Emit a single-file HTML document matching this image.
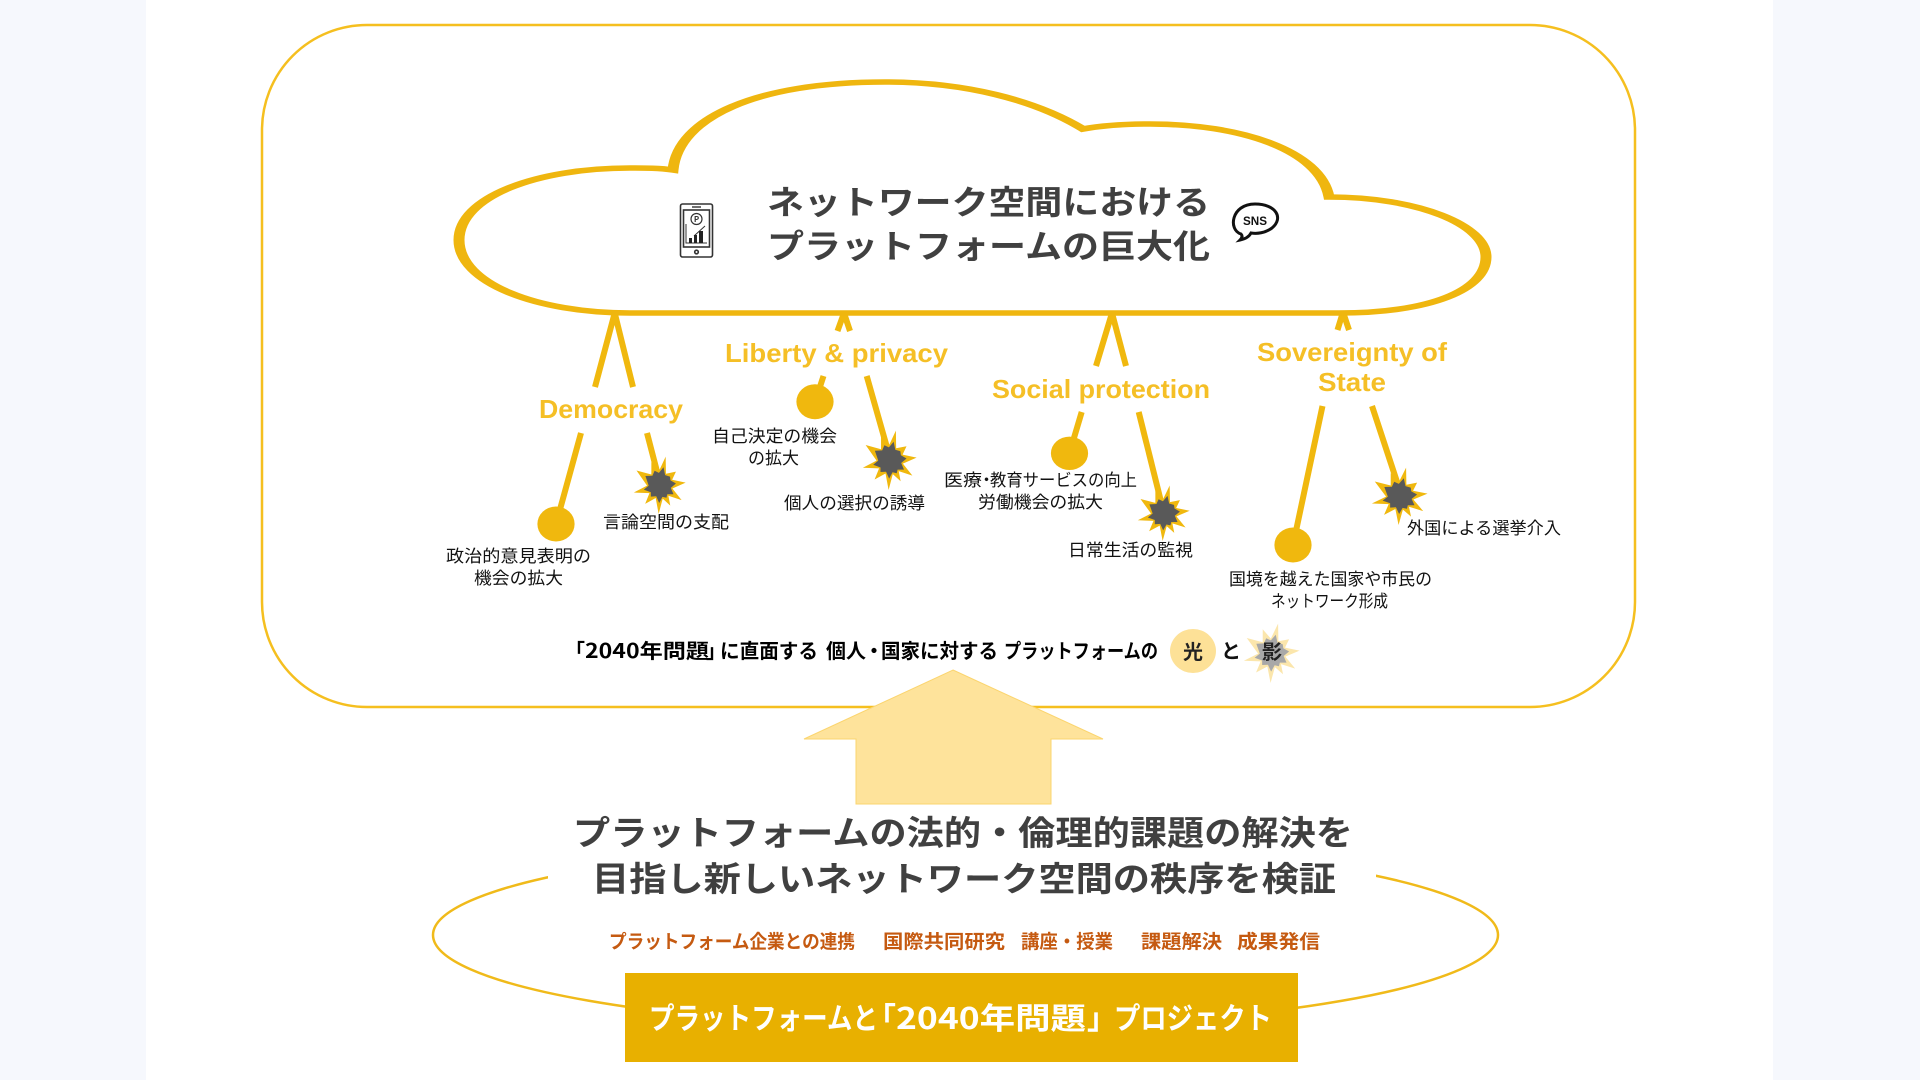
<!DOCTYPE html>
<html lang="ja">
<head>
<meta charset="utf-8">
<title>プラットフォームと「2040年問題」プロジェクト</title>
<style>
html,body{margin:0;padding:0;background:#f6f8fd;}
svg{display:block;position:absolute;left:0;top:0;}
text{font-family:"Liberation Sans","Noto Sans CJK JP",sans-serif;}
.t{font-family:"Noto Sans CJK JP","Liberation Sans",sans-serif;}
.h{font-weight:700;fill:#404040;font-size:33px;}
.s{font-size:17px;fill:#111;}
.l{font-weight:700;fill:#f5bf26;font-size:26px;}
.o{font-weight:700;fill:#c55a11;font-size:19px;}
.m{font-size:20px;font-weight:700;fill:#000;}
.b{font-size:30px;font-weight:700;fill:#fff;}
.leg{stroke:#f0b80e;stroke-width:6;fill:none;}
</style>
</head>
<body>
<svg width="1920" height="1080" viewBox="0 0 1920 1080" xmlns="http://www.w3.org/2000/svg">
<defs>
<polygon id="star" points="0.21,-0.98 0.22,-0.39 0.59,-0.46 0.45,-0.18 0.95,-0.08 0.46,0.12 0.8,0.52 0.31,0.37 0.38,0.71 0.1,0.47 -0.05,1 -0.16,0.45 -0.55,0.65 -0.39,0.28 -0.97,0.26 -0.48,0.02 -0.87,-0.5 -0.32,-0.36 -0.32,-0.79 -0.04,-0.48"/>
<polygon id="core" points="0.13,-0.61 0.19,-0.34 0.37,-0.29 0.39,-0.16 0.59,-0.05 0.4,0.1 0.5,0.32 0.27,0.32 0.24,0.44 0.09,0.41 -0.03,0.62 -0.14,0.39 -0.34,0.4 -0.34,0.25 -0.6,0.16 -0.42,0.02 -0.54,-0.31 -0.28,-0.32 -0.2,-0.49 -0.04,-0.42"/>
</defs>
<rect x="146" y="0" width="1627" height="1080" fill="#fff"/>
<rect x="262" y="25" width="1373" height="682" rx="105" ry="105" fill="#fff" stroke="#f5bf1f" stroke-width="2.5"/>

<!-- legs -->
<g class="leg">
<path d="M595 387L614.7 313L633 387"/>
<path d="M581 433L556 524"/>
<path d="M647 433L660 483"/>
<path d="M837.5 331L844 313L850 331"/>
<path d="M823.5 376L815 402"/>
<path d="M866.7 376L890 458"/>
<path d="M1096 366L1112 313L1126 366"/>
<path d="M1081.7 412L1069.5 453"/>
<path d="M1138.7 412L1163.6 512"/>
<path d="M1337.5 330L1343 312L1349 330"/>
<path d="M1322.5 406L1293 545"/>
<path d="M1372 406L1400.7 493"/>
</g>

<!-- cloud -->
<g transform="scale(2,1)">
<path d="M315 313C268 313 229.5 283 229.5 240C229.5 197 268 168 315 168C322.5 168 330 168 336.5 170C339 118 378 82 442.5 82C482.5 82 517.5 100 541.5 129C552.5 125 565 124 575 124C620 124 660 150 664.5 197C709 197 743 225 743 257C743 290 715 313 669.5 313Z" fill="#fff" stroke="#efb60f" stroke-width="5.5"/>
</g>

<!-- circles -->
<g fill="#f0b80e">
<ellipse cx="556" cy="524" rx="18.6" ry="17.5"/>
<ellipse cx="815" cy="401.7" rx="18.6" ry="17.5"/>
<ellipse cx="1069.5" cy="453.3" rx="18.6" ry="16.7"/>
<ellipse cx="1293" cy="545" rx="18.6" ry="17.5"/>
</g>

<!-- stars -->
<g>
<use href="#star" fill="#f0b80e" transform="translate(660,485) scale(27,29)"/>
<use href="#core" fill="#595959" transform="translate(660,485) scale(27,29)"/>
<use href="#star" fill="#f0b80e" transform="translate(890,460) scale(28,30)"/>
<use href="#core" fill="#595959" transform="translate(890,460) scale(28,30)"/>
<use href="#star" fill="#f0b80e" transform="translate(1164,513) scale(27,28)"/>
<use href="#core" fill="#595959" transform="translate(1164,513) scale(27,28)"/>
<use href="#star" fill="#f0b80e" transform="translate(1400,496) scale(29,29)"/>
<use href="#core" fill="#595959" transform="translate(1400,496) scale(29,29)"/>
</g>

<!-- phone icon -->
<g fill="none" stroke="#333" stroke-width="1.6">
<rect x="680.5" y="204" width="32" height="53" rx="2"/>
<rect x="683.5" y="210" width="26" height="37"/>
<path d="M692 207h9" stroke-width="1.4"/>
<circle cx="696.5" cy="252" r="1.8"/>
<circle cx="696.5" cy="219" r="5.5" stroke-width="1.2"/>
<path d="M686 224v19h21" stroke-width="1"/>
<path d="M694 236l11-10" stroke-width="1"/>
</g>
<text class="t" x="696.5" y="222" font-size="8" font-weight="700" text-anchor="middle" fill="#333">P</text>
<g fill="#222"><rect x="689" y="238" width="3" height="5"/><rect x="694" y="235" width="3" height="8"/><rect x="699" y="231" width="4" height="12"/></g>

<!-- SNS icon -->
<path d="M1241 234C1228 230 1231 204 1255 204C1276 204 1284 218 1272 228C1265 233 1257 234 1251 233C1249 237 1245 239 1240 240C1242 238 1243 236 1241 234Z" fill="#fff" stroke="#111" stroke-width="3"/>
<text x="1255" y="225" font-size="12" font-weight="700" fill="#111" textLength="24" lengthAdjust="spacingAndGlyphs" text-anchor="middle">SNS</text>

<!-- cloud title -->
<text class="t h" x="767" y="214" textLength="443" lengthAdjust="spacingAndGlyphs">ネットワーク空間における</text>
<text class="t h" x="767" y="258" textLength="443" lengthAdjust="spacingAndGlyphs">プラットフォームの巨大化</text>

<!-- category labels -->
<text class="l" x="539" y="418" textLength="144" lengthAdjust="spacingAndGlyphs">Democracy</text>
<text class="l" x="725" y="362" textLength="223" lengthAdjust="spacingAndGlyphs">Liberty &amp; privacy</text>
<text class="l" x="992" y="398" textLength="218" lengthAdjust="spacingAndGlyphs">Social protection</text>
<text class="l" x="1257" y="361" textLength="190" lengthAdjust="spacingAndGlyphs">Sovereignty of</text>
<text class="l" x="1318" y="391" textLength="68" lengthAdjust="spacingAndGlyphs">State</text>

<!-- small labels -->
<text class="t s" x="446" y="562" textLength="145" lengthAdjust="spacingAndGlyphs">政治的意見表明の</text>
<text class="t s" x="474" y="584" textLength="89" lengthAdjust="spacingAndGlyphs">機会の拡大</text>
<text class="t s" x="603" y="528" textLength="126" lengthAdjust="spacingAndGlyphs">言論空間の支配</text>
<text class="t s" x="712" y="442" textLength="125" lengthAdjust="spacingAndGlyphs">自己決定の機会</text>
<text class="t s" x="748" y="464" textLength="51" lengthAdjust="spacingAndGlyphs">の拡大</text>
<text class="t s" x="784" y="509" textLength="141" lengthAdjust="spacingAndGlyphs">個人の選択の誘導</text>
<text class="t s" x="944" y="486" textLength="38" lengthAdjust="spacingAndGlyphs">医療</text>
<text class="t s" x="978" y="486">・</text>
<text class="t s" x="990" y="486" textLength="147" lengthAdjust="spacingAndGlyphs">教育サービスの向上</text>
<text class="t s" x="978" y="508" textLength="125" lengthAdjust="spacingAndGlyphs">労働機会の拡大</text>
<text class="t s" x="1068" y="556" textLength="125" lengthAdjust="spacingAndGlyphs">日常生活の監視</text>
<text class="t s" x="1407" y="534" textLength="154" lengthAdjust="spacingAndGlyphs">外国による選挙介入</text>
<text class="t s" x="1229" y="585" textLength="203" lengthAdjust="spacingAndGlyphs">国境を越えた国家や市民の</text>
<text class="t s" x="1271" y="607" textLength="117" lengthAdjust="spacingAndGlyphs">ネットワーク形成</text>

<!-- light & shadow line -->
<text class="t m" x="565" y="658">「</text>
<text class="t m" x="585" y="658" textLength="124" lengthAdjust="spacingAndGlyphs">2040年問題</text>
<text class="t m" x="706" y="658">」</text>
<text class="t m" x="720" y="658" textLength="98" lengthAdjust="spacingAndGlyphs">に直面する</text>
<text class="t m" x="826" y="658" textLength="40" lengthAdjust="spacingAndGlyphs">個人</text>
<text class="t m" x="864" y="658">・</text>
<text class="t m" x="881" y="658" textLength="117" lengthAdjust="spacingAndGlyphs">国家に対する</text>
<text class="t m" x="1004" y="658" textLength="154" lengthAdjust="spacingAndGlyphs">プラットフォームの</text>
<ellipse cx="1193" cy="651" rx="23" ry="22" fill="#fde197"/>
<text class="t" x="1193" y="659" font-size="20" font-weight="700" text-anchor="middle" fill="#222">光</text>
<text class="t" x="1231" y="658" font-size="20" font-weight="700" text-anchor="middle" fill="#111">と</text>
<use href="#star" fill="#fbe6ac" transform="translate(1272,653) scale(29,30)"/>
<use href="#core" fill="#a8a8a8" transform="translate(1272,653) scale(29,30)"/>
<text class="t" x="1272" y="659" font-size="20" font-weight="700" text-anchor="middle" fill="#222">影</text>

<!-- big arrow -->
<polygon points="953,670 1103,739 1051,739 1051,804 856,804 856,739 804,739" fill="#fee39b" stroke="#fbd56f" stroke-width="1"/>

<!-- lower ellipse: full outline, top gap hidden behind heading -->
<ellipse cx="965.5" cy="935" rx="532.5" ry="93" fill="none" stroke="#f0ba1a" stroke-width="2.5"/>
<rect x="548" y="830" width="828" height="70" fill="#fff"/>

<!-- lower heading -->
<text class="t" x="573" y="845" font-size="34" font-weight="700" fill="#404040" textLength="780" lengthAdjust="spacingAndGlyphs">プラットフォームの法的・倫理的課題の解決を</text>
<text class="t" x="592" y="891" font-size="34" font-weight="700" fill="#404040" textLength="744" lengthAdjust="spacingAndGlyphs">目指し新しいネットワーク空間の秩序を検証</text>

<!-- orange items -->
<text class="t o" x="609" y="948" textLength="246" lengthAdjust="spacingAndGlyphs">プラットフォーム企業との連携</text>
<text class="t o" x="883" y="948" textLength="122" lengthAdjust="spacingAndGlyphs">国際共同研究</text>
<text class="t o" x="1021" y="948" textLength="92" lengthAdjust="spacingAndGlyphs">講座・授業</text>
<text class="t o" x="1141" y="948" textLength="81" lengthAdjust="spacingAndGlyphs">課題解決</text>
<text class="t o" x="1237" y="948" textLength="83" lengthAdjust="spacingAndGlyphs">成果発信</text>

<!-- project box -->
<rect x="625" y="973" width="673" height="89" fill="#e8b000"/>
<text class="t b" x="649" y="1029" textLength="229" lengthAdjust="spacingAndGlyphs">プラットフォームと</text>
<text class="t b" x="866" y="1029">「</text>
<text class="t b" x="896" y="1029" textLength="190" lengthAdjust="spacingAndGlyphs">2040年問題</text>
<text class="t b" x="1087" y="1029">」</text>
<text class="t b" x="1114" y="1029" textLength="158" lengthAdjust="spacingAndGlyphs">プロジェクト</text>
</svg>
</body>
</html>
